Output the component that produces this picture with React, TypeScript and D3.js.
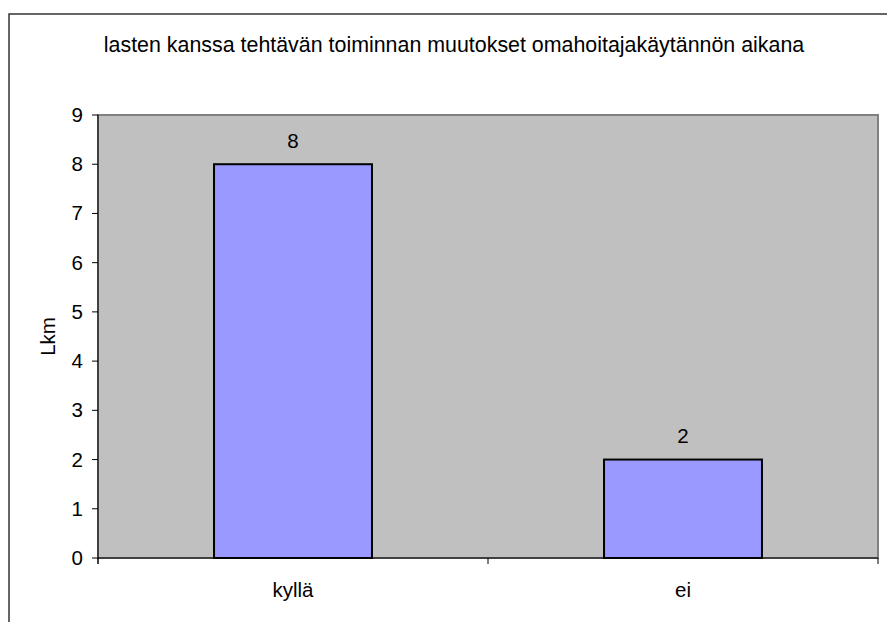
import React from "react";
import * as d3 from "d3";

const categories = ["kyllä", "ei"];
const values = [8, 2];
const yTicks = [0, 1, 2, 3, 4, 5, 6, 7, 8, 9];
const title = "lasten kanssa tehtävän toiminnan muutokset omahoitajakäytännön aikana";
const yLabel = "Lkm";

const W = 887;
const H = 622;
const plot = { left: 98, right: 878, top: 115, bottom: 558 };
const font = "Liberation Sans, Arial, sans-serif";
const fs = 20.5;

export default function App() {
  const x = d3
    .scaleBand<string>()
    .domain(categories)
    .range([plot.left, plot.right])
    .paddingInner(0.595)
    .paddingOuter(0.2975);
  const y = d3.scaleLinear().domain([0, 9]).range([plot.bottom, plot.top]);
  const step = x.step();
  const catBounds = [plot.left, ...categories.map((_, i) => plot.left + step * (i + 1))];

  return (
    <svg
      width={W}
      height={H}
      style={{ position: "absolute", left: 0, top: 0, background: "#fff" }}
      fontFamily={font}
    >
      <rect x={9} y={14} width={W + 20} height={H + 20} fill="#fff" stroke="#333" strokeWidth={1.5} />
      <text x={454} y={52} textAnchor="middle" fontSize={21.4} fill="#000">
        {title}
      </text>
      <rect
        x={plot.left}
        y={plot.top}
        width={plot.right - plot.left}
        height={plot.bottom - plot.top}
        fill="#c0c0c0"
        stroke="#808080"
        strokeWidth={2}
      />
      {categories.map((c, i) => (
        <g key={c}>
          <rect
            x={x(c)}
            y={y(values[i])}
            width={x.bandwidth()}
            height={y(0) - y(values[i])}
            fill="#9999ff"
            stroke="#000"
            strokeWidth={2}
          />
          <text
            x={(x(c) as number) + x.bandwidth() / 2}
            y={y(values[i]) - 16.5}
            textAnchor="middle"
            fontSize={fs}
          >
            {values[i]}
          </text>
          <text x={(x(c) as number) + x.bandwidth() / 2} y={597} textAnchor="middle" fontSize={fs}>
            {c}
          </text>
        </g>
      ))}
      <line x1={plot.left} x2={plot.left} y1={plot.top} y2={plot.bottom + 6} stroke="#000" strokeWidth={1} />
      <line x1={plot.left} x2={plot.right} y1={plot.bottom} y2={plot.bottom} stroke="#000" strokeWidth={1} />
      {yTicks.map((t) => (
        <g key={t}>
          <line x1={plot.left - 6} x2={plot.left} y1={y(t)} y2={y(t)} stroke="#000" />
          <text x={83} y={y(t) + 7} textAnchor="end" fontSize={fs}>
            {t}
          </text>
        </g>
      ))}
      {catBounds.map((b, i) => (
        <line key={i} x1={b} x2={b} y1={plot.bottom} y2={plot.bottom + 6} stroke="#000" />
      ))}
      <text
        transform={`translate(55, ${(plot.top + plot.bottom) / 2}) rotate(-90)`}
        textAnchor="middle"
        fontSize={fs}
      >
        {yLabel}
      </text>
    </svg>
  );
}
